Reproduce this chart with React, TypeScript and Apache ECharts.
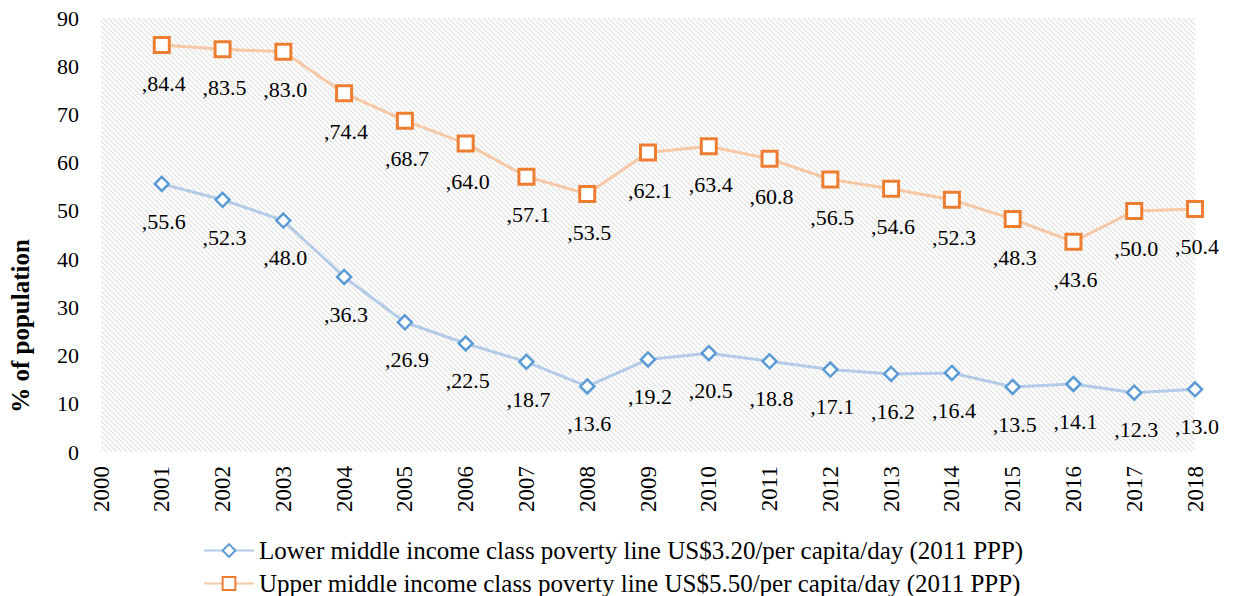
import React, { useEffect, useRef } from "react";
import * as echarts from "echarts";

const years = ["2000","2001","2002","2003","2004","2005","2006","2007","2008","2009","2010","2011","2012","2013","2014","2015","2016","2017","2018"];
const lowerValues = [null, 55.6, 52.3, 48.0, 36.3, 26.9, 22.5, 18.7, 13.6, 19.2, 20.5, 18.8, 17.1, 16.2, 16.4, 13.5, 14.1, 12.3, 13.0];
const upperValues = [null, 84.4, 83.5, 83.0, 74.4, 68.7, 64.0, 57.1, 53.5, 62.1, 63.4, 60.8, 56.5, 54.6, 52.3, 48.3, 43.6, 50.0, 50.4];
const lowerName = "Lower middle income class poverty line US$3.20/per capita/day (2011 PPP)";
const upperName = "Upper middle income class poverty line US$5.50/per capita/day (2011 PPP)";
const yTitle = "% of population";

const FONT = "'Liberation Serif', 'DejaVu Serif', serif";

function makeHatch() {
  const s = 5;
  const c = document.createElement("canvas");
  c.width = s;
  c.height = s;
  const ctx = c.getContext("2d")!;
  ctx.fillStyle = "#ffffff";
  ctx.fillRect(0, 0, s, s);
  ctx.strokeStyle = "#e0e0e0";
  ctx.lineWidth = 1.2;
  for (let k = -1; k <= 1; k++) {
    ctx.beginPath();
    ctx.moveTo(k * s - 1, -1);
    ctx.lineTo(k * s + s + 1, s + 1);
    ctx.stroke();
  }
  return c;
}

export default function App() {
  const ref = useRef<HTMLDivElement>(null);
  useEffect(() => {
    if (!ref.current) return;
    const chart = echarts.init(ref.current, undefined, { renderer: "svg" });
    const hatch = makeHatch();
    const labelCfg = {
      show: true,
      position: "bottom",
      distance: 18,
      offset: [2, 0],
      color: "#000",
      fontFamily: FONT,
      fontSize: 22,
      formatter: (p: any) => "," + Number(p.value).toFixed(1),
    };
    const legendBase = {
      orient: "vertical",
      left: 198,
      itemWidth: 50,
      itemHeight: 16,
      itemGap: 0,
      textStyle: { color: "#000", fontFamily: FONT, fontSize: 25 },
    };
    chart.setOption({
      animation: false,
      backgroundColor: "#ffffff",
      grid: {
        left: 101,
        right: 38,
        top: 18,
        bottom: 144,
        show: true,
        borderWidth: 0,
        backgroundColor: { image: hatch, repeat: "repeat" },
      },
      xAxis: {
        type: "category",
        data: years,
        boundaryGap: false,
        axisLine: { show: false },
        axisTick: { show: false },
        axisLabel: {
          rotate: 90,
          margin: 14,
          color: "#000",
          fontFamily: FONT,
          fontSize: 23,
        },
        splitLine: { show: false },
      },
      yAxis: {
        type: "value",
        min: 0,
        max: 90,
        interval: 10,
        axisLine: { show: false },
        axisTick: { show: false },
        splitLine: { show: false },
        axisLabel: {
          margin: 22,
          color: "#000",
          fontFamily: FONT,
          fontSize: 22,
        },
      },
      legend: [
        { ...legendBase, top: 533, data: [lowerName] },
        { ...legendBase, top: 566, data: [upperName] },
      ],
      graphic: [
        {
          type: "text",
          x: 20,
          y: 326,
          rotation: Math.PI / 2,
          style: {
            text: yTitle,
            fill: "#000",
            font: `bold 25px ${FONT}`,
            align: "center",
            verticalAlign: "middle",
          },
        },
      ],
      series: [
        {
          name: lowerName,
          type: "line",
          data: lowerValues,
          symbol: "diamond",
          symbolSize: 14,
          showAllSymbol: true,
          lineStyle: { color: "#b4cbe8", width: 3 },
          itemStyle: { color: "#ffffff", borderColor: "#5b9bd5", borderWidth: 2.5 },
          label: labelCfg,
          z: 3,
        },
        {
          name: upperName,
          type: "line",
          data: upperValues,
          symbol: "rect",
          symbolSize: 15,
          showAllSymbol: true,
          lineStyle: { color: "#f7c8a6", width: 3 },
          itemStyle: { color: "#ffffff", borderColor: "#ed7d31", borderWidth: 3 },
          label: labelCfg,
          z: 3,
        },
      ],
    });
    return () => chart.dispose();
  }, []);
  return <div ref={ref} style={{ width: 1233, height: 596, position: "absolute", left: 0, top: 0 }} />;
}
